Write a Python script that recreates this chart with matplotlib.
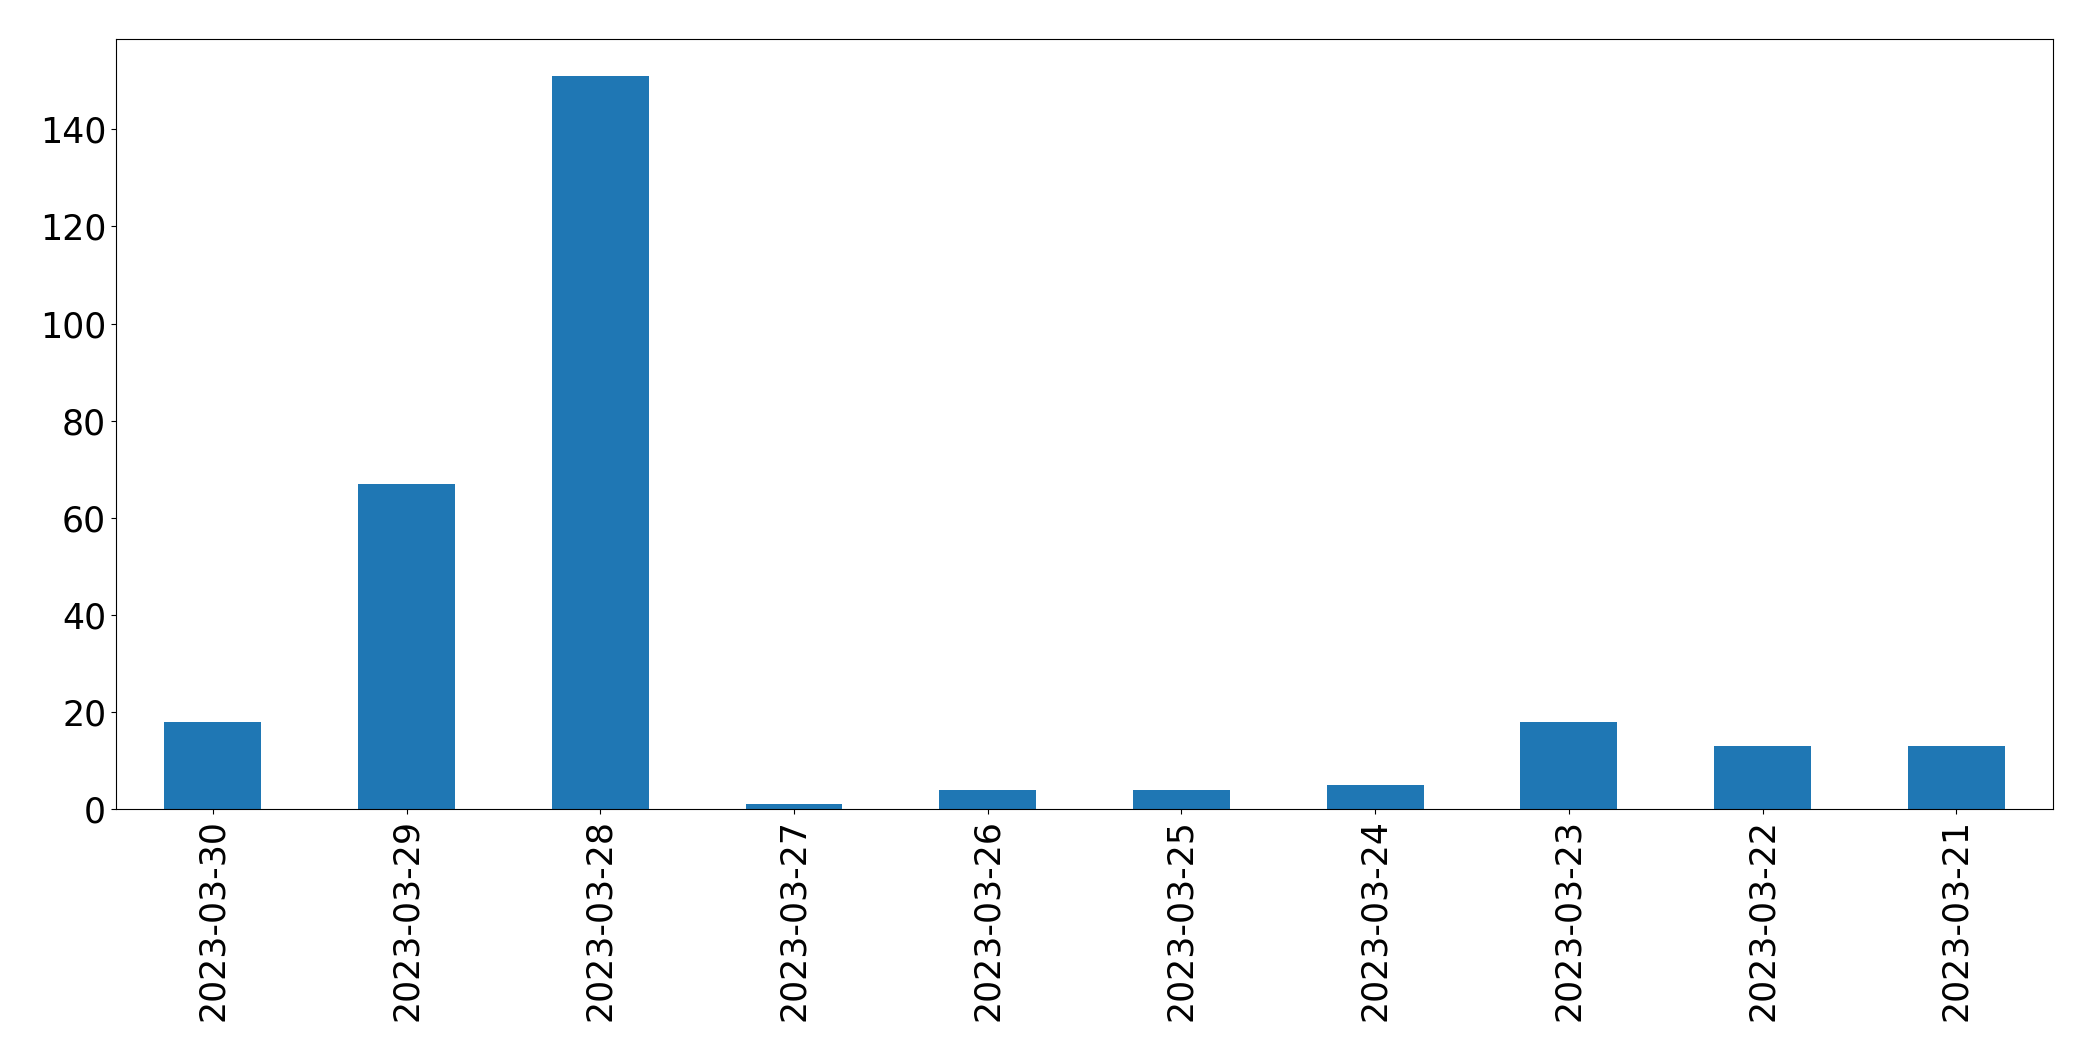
import matplotlib
matplotlib.use('Agg')
import matplotlib.pyplot as plt

# daily counts
dates = ['2023-03-30', '2023-03-29', '2023-03-28', '2023-03-27', '2023-03-26',
         '2023-03-25', '2023-03-24', '2023-03-23', '2023-03-22', '2023-03-21']
counts = [18, 67, 151, 1, 4, 4, 5, 18, 13, 13]

fig, ax = plt.subplots(figsize=(20.93, 10.61), dpi=100)
x = range(len(dates))
ax.bar(x, counts, width=0.5, color='#1f77b4')
ax.set_xticks(list(x))
ax.set_xticklabels(dates, rotation=90)
ax.set_xlim(-0.5, len(dates) - 0.5)
ax.set_ylim(0, max(counts) * 1.05)
ax.tick_params(labelsize=25)

plt.subplots_adjust(left=0.0554, right=0.981, top=0.963, bottom=0.2375)
plt.savefig('out.png')
